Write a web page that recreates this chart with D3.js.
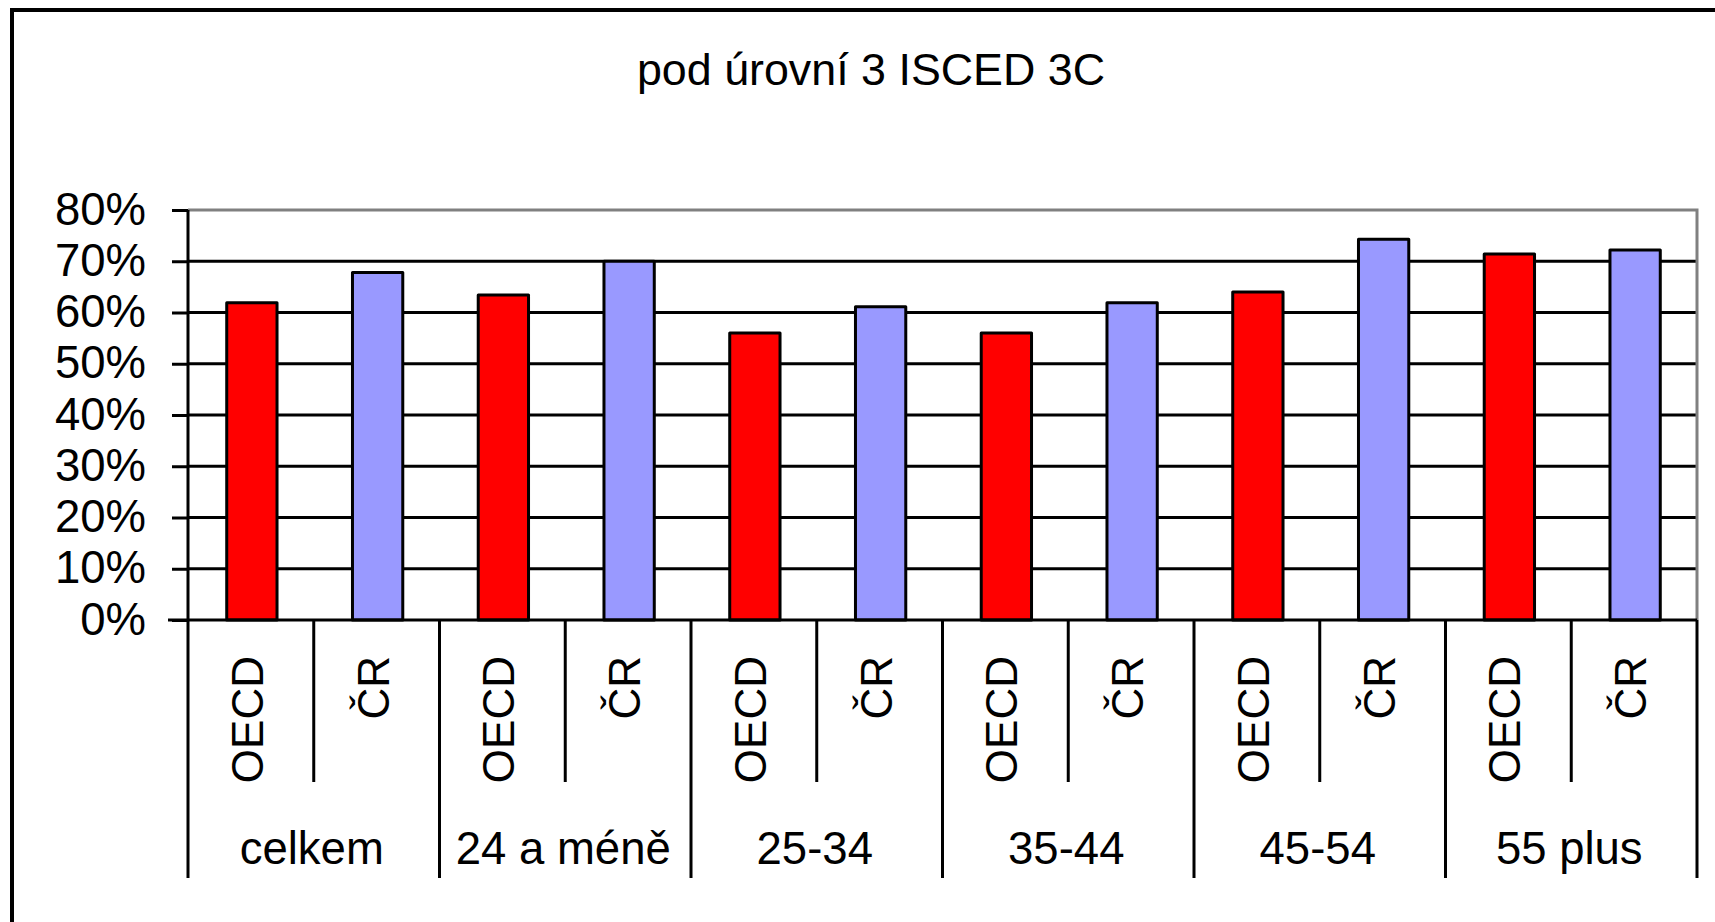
<!DOCTYPE html>
<html>
<head>
<meta charset="utf-8">
<script src="https://cdn.jsdelivr.net/npm/d3@7"></script>
<style>
  html, body { margin: 0; padding: 0; background: #fff; }
  svg { display: block; font-family: "Liberation Sans", Arial, sans-serif; }
</style>
</head>
<body>
<svg id="chart" width="1715" height="922"></svg>
<script>
const title = "pod úrovní 3 ISCED 3C";
const groups = ["celkem", "24 a méně", "25-34", "35-44", "45-54", "55 plus"];
const series = ["OECD", "ČR"];
const oecdValues = [0.619, 0.634, 0.560, 0.560, 0.640, 0.714];
const crValues   = [0.678, 0.700, 0.611, 0.619, 0.743, 0.722];
const yTicks = [0, 0.1, 0.2, 0.3, 0.4, 0.5, 0.6, 0.7, 0.8];
const colors = { "OECD": "#ff0000", "ČR": "#9999ff" };

(function () {
const svg = d3.select("#chart");
const pLeft = 188, pRight = 1697, pTop = 210, pBottom = 620;
const groupLabelBottom = 878, tickBottom = 782;

const cats = [];
groups.forEach((g, gi) => series.forEach((s, si) => {
  cats.push({ key: g + "|" + s, group: g, series: s,
    value: si === 0 ? oecdValues[gi] : crValues[gi] });
}));

const x = d3.scaleBand().domain(cats.map(d => d.key)).range([pLeft, pRight]).padding(0);
const xg = d3.scaleBand().domain(groups).range([pLeft, pRight]).padding(0);
const y = d3.scaleLinear().domain([0, 0.8]).range([pBottom, pTop]);

// outer chart border (left and top only visible)
svg.append("path")
  .attr("d", `M12,922 L12,10 L1715,10`)
  .attr("fill", "none").attr("stroke", "#000").attr("stroke-width", 4);

// title
svg.append("text")
  .attr("x", 871).attr("y", 85)
  .attr("text-anchor", "middle")
  .attr("font-size", 44.8)
  .text(title);

// gridlines (black), excluding top
svg.append("g").selectAll("line")
  .data(yTicks.filter(t => t > 0 && t < 0.8))
  .join("line")
  .attr("x1", pLeft).attr("x2", pRight)
  .attr("y1", d => y(d)).attr("y2", d => y(d))
  .attr("stroke", "#000").attr("stroke-width", 3);

// plot area top & right border (gray)
svg.append("path")
  .attr("d", `M${pLeft},${y(0.8)} L${pRight},${y(0.8)} L${pRight},${pBottom}`)
  .attr("fill", "none").attr("stroke", "#808080").attr("stroke-width", 3);

// y axis
const yAxis = d3.axisLeft(y).tickValues(yTicks).tickSize(16).tickPadding(26)
  .tickFormat(d3.format(".0%"));
const gy = svg.append("g").attr("transform", `translate(${pLeft},0)`).call(yAxis);
gy.select(".domain").remove();
gy.selectAll(".tick line").attr("stroke", "#000").attr("stroke-width", 3);
gy.selectAll(".tick text")
  .attr("font-size", 45.5)
  .attr("font-family", "Liberation Sans, Arial, sans-serif")
  .attr("fill", "#000")
  .attr("dy", null)
  .attr("y", 14)
  .attr("x", -42);

// bars
const barW = x.bandwidth() * 0.40;
svg.append("g").selectAll("rect")
  .data(cats)
  .join("rect")
  .attr("x", d => x(d.key) + x.bandwidth() / 2 - barW / 2 + 1)
  .attr("y", d => y(d.value))
  .attr("width", barW)
  .attr("height", d => y(0) - y(d.value))
  .attr("fill", d => colors[d.series])
  .attr("stroke", "#000").attr("stroke-width", 3)
  .attr("stroke-linejoin", "round");

// y axis line
svg.append("line")
  .attr("x1", pLeft).attr("x2", pLeft).attr("y1", pTop).attr("y2", pBottom)
  .attr("stroke", "#000").attr("stroke-width", 3);

// x axis line
svg.append("line")
  .attr("x1", pLeft - 20).attr("x2", pRight).attr("y1", pBottom).attr("y2", pBottom)
  .attr("stroke", "#000").attr("stroke-width", 3);

// inner (series) dividers
svg.append("g").selectAll("line")
  .data(groups)
  .join("line")
  .attr("x1", d => xg(d) + xg.bandwidth() / 2).attr("x2", d => xg(d) + xg.bandwidth() / 2)
  .attr("y1", pBottom).attr("y2", tickBottom)
  .attr("stroke", "#000").attr("stroke-width", 3);

// group dividers
const groupEdges = groups.map(g => xg(g)).concat([pRight]);
svg.append("g").selectAll("line")
  .data(groupEdges)
  .join("line")
  .attr("x1", d => d).attr("x2", d => d)
  .attr("y1", pBottom).attr("y2", groupLabelBottom)
  .attr("stroke", "#000").attr("stroke-width", 3);

// series labels (rotated)
svg.append("g").selectAll("text")
  .data(cats)
  .join("text")
  .attr("transform", d => `translate(${x(d.key) + x.bandwidth() / 2 + 12},656) rotate(-90)`)
  .attr("text-anchor", "end")
  .attr("font-size", 44)
  .text(d => d.series);

// group labels
svg.append("g").selectAll("text")
  .data(groups)
  .join("text")
  .attr("x", d => xg(d) + xg.bandwidth() / 2 - 2)
  .attr("y", 864)
  .attr("text-anchor", "middle")
  .attr("font-size", 45.5)
  .text(d => d);
})();
</script>
</body>
</html>
